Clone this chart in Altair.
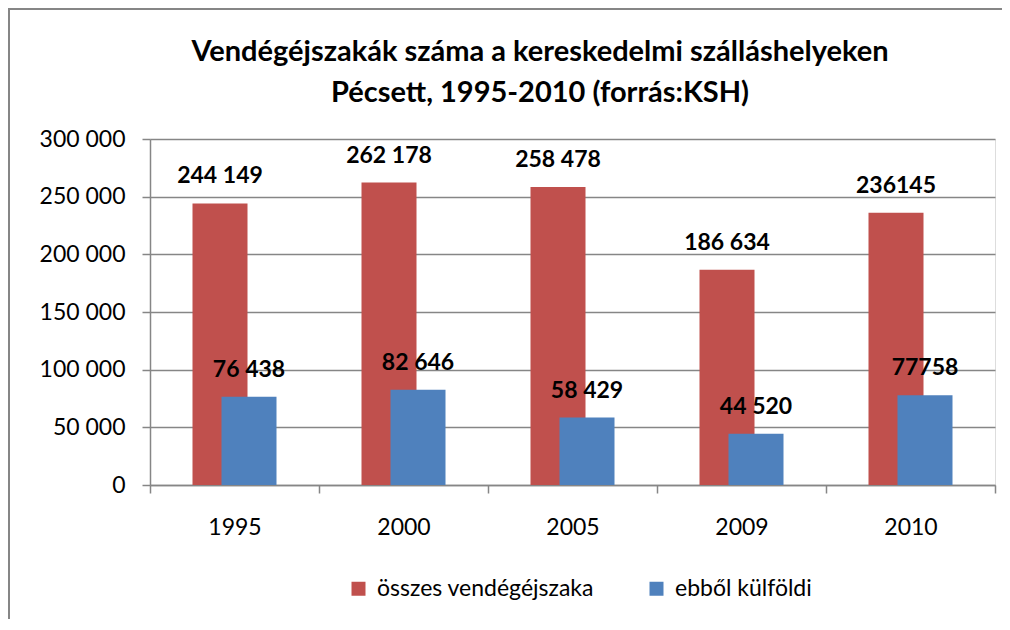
import altair as alt
import pandas as pd

years = ["1995", "2000", "2005", "2009", "2010"]
total = [244149, 262178, 258478, 186634, 236145]
foreign = [76438, 82646, 58429, 44520, 77758]
total_labels = ["244 149", "262 178", "258 478", "186 634", "236145"]
foreign_labels = ["76 438", "82 646", "58 429", "44 520", "77758"]
series_names = ["összes vendégéjszaka", "ebből külföldi"]
series_colors = ["#C0504D", "#4F81BD"]
y_ticks = [0, 50000, 100000, 150000, 200000, 250000, 300000]
title_lines = ["Vendégéjszakák száma a kereskedelmi szálláshelyeken",
               "Pécsett, 1995-2010 (forrás:KSH)"]

rows = []
for i, yr in enumerate(years):
    rows.append({"year": yr, "series": series_names[0], "value": total[i], "label": total_labels[i]})
    rows.append({"year": yr, "series": series_names[1], "value": foreign[i], "label": foreign_labels[i]})
df = pd.DataFrame(rows)

FONT = "Lato"
GRAY = "#868686"
BAR_W = 55
OFF = 14.5

x_enc = alt.X(
    "year:N",
    sort=years,
    scale=alt.Scale(paddingInner=0, paddingOuter=0),
    axis=alt.Axis(
        title=None, labelAngle=0, tickBand="extent", tickSize=8, grid=False,
        labelFont=FONT, labelFontSize=23, labelColor="#000000", labelPadding=23,
        domainColor=GRAY, tickColor=GRAY, domainWidth=1.5, tickWidth=1.5,
    ),
)
y_enc = alt.Y(
    "value:Q",
    scale=alt.Scale(domain=[0, 300000], nice=False),
    axis=alt.Axis(
        title=None, values=y_ticks, tickSize=8, grid=True, gridColor=GRAY, gridWidth=1.5,
        labelFont=FONT, labelFontSize=23, labelColor="#000000", labelPadding=17,
        labelExpr="replace(format(datum.value, ','), ',', ' ')",
        domainColor=GRAY, tickColor=GRAY, domainWidth=1.5, tickWidth=1.5,
    ),
)
color_enc = alt.Color(
    "series:N",
    scale=alt.Scale(domain=series_names, range=series_colors),
    legend=alt.Legend(
        title=None, orient="none", legendX=197, legendY=438, direction="horizontal",
        symbolType="square", symbolSize=196, symbolStrokeWidth=0, symbolOpacity=1,
        labelFont=FONT, labelFontSize=23, labelColor="#000000", labelOffset=7,
        columnPadding=50, labelLimit=400,
    ),
)

base = alt.Chart(df)
red = base.transform_filter(alt.datum.series == series_names[0])
blue = base.transform_filter(alt.datum.series == series_names[1])

red_bar = red.mark_bar(width=BAR_W, xOffset=-OFF).encode(x=x_enc, y=y_enc, color=color_enc)
blue_bar = blue.mark_bar(width=BAR_W, xOffset=OFF).encode(x=x_enc, y=y_enc, color=color_enc)
text_style = dict(font=FONT, fontSize=23, fontWeight="bold", color="#000000",
                  baseline="alphabetic", align="center")
red_txt = red.mark_text(dx=-OFF, dy=-20, **text_style).encode(x=x_enc, y=y_enc, text="label:N")
blue_txt = blue.mark_text(dx=OFF, dy=-20, **text_style).encode(x=x_enc, y=y_enc, text="label:N")

one = alt.Chart(pd.DataFrame({"a": [0]}))
title_style = dict(font=FONT, fontSize=29, fontWeight="bold", color="#000000",
                   align="center", baseline="middle")
title1 = one.mark_text(text=title_lines[0], **title_style).encode(
    x=alt.value(390), y=alt.value(-87))
title2 = one.mark_text(text=title_lines[1], **title_style).encode(
    x=alt.value(390), y=alt.value(-46))

border_l = one.mark_rule(color=GRAY, strokeWidth=3, clip=False).encode(
    x=alt.value(-141.5), y=alt.value(-132), y2=alt.value(480))
border_t = one.mark_rule(color=GRAY, strokeWidth=3, clip=False).encode(
    x=alt.value(-143), x2=alt.value(860), y=alt.value(-130.5))

chart = alt.layer(
    red_bar, blue_bar, red_txt, blue_txt, title1, title2, border_l, border_t
).properties(
    width=845,
    height=346,
    autosize=alt.AutoSizeParams(type="none"),
    padding={"left": 142, "top": 131, "right": 7, "bottom": 137},
).configure_view(stroke=None).configure(background="#ffffff")

chart.save("out.html", embed_options={"renderer": "svg", "actions": False})
